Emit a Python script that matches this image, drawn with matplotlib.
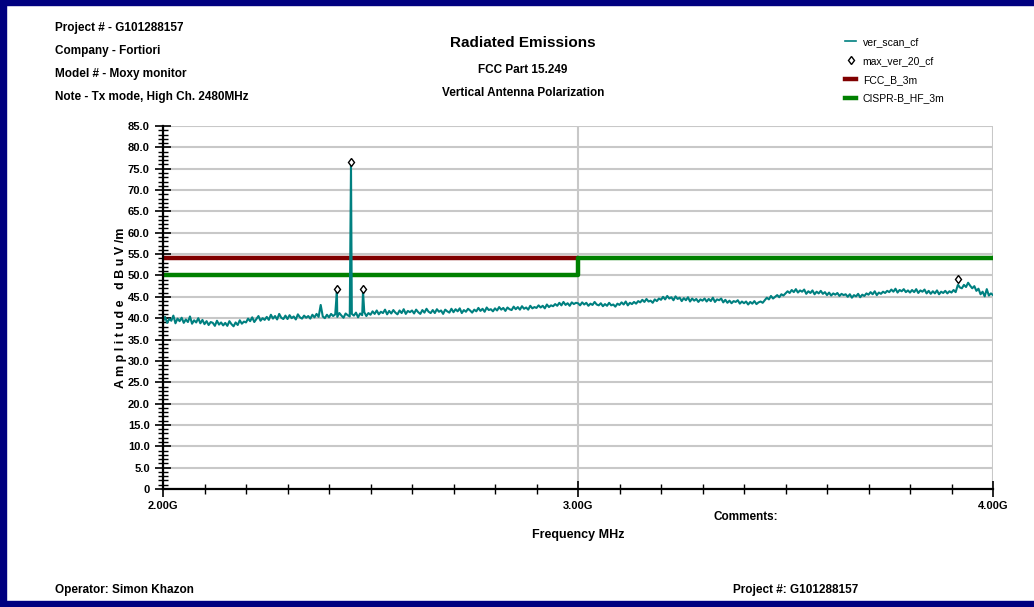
import matplotlib
matplotlib.use("Agg")
import matplotlib.pyplot as plt
from matplotlib.lines import Line2D
from matplotlib.patches import Rectangle
from matplotlib.ticker import MultipleLocator, FixedLocator
import numpy as np

plt.rcParams['font.family'] = ['Liberation Sans', 'DejaVu Sans']

# scan trace, 5 MHz steps from 2.00 GHz to 4.00 GHz (dBuV/m), one row per 50 MHz
scan_start = 2.00
scan_step = 0.005
scan_level = [
    39.2, 40.3, 38.9, 39.8, 39.4, 40.6, 38.8, 39.9, 39.3, 40.1,
    38.9, 39.7, 39.1, 40.4, 38.7, 39.5, 39.0, 40.0, 38.8, 39.6,
    38.6, 39.3, 38.4, 39.1, 38.9, 38.2, 39.4, 38.5, 39.0, 38.3,
    38.9, 38.2, 39.3, 38.6, 38.1, 39.0, 38.4, 39.5, 38.7, 39.2,
    39.0, 39.9, 39.3, 40.2, 39.1, 39.8, 40.5, 39.4, 40.0, 39.6,
    40.3, 39.6, 40.8, 39.9, 40.5, 39.7, 41.0, 40.1, 39.8, 40.6,
    39.8, 40.7, 40.0, 40.4, 39.7, 40.9, 40.2, 39.9, 40.6, 40.1,
    40.5, 39.9, 40.8, 40.2, 41.0, 40.3, 43.1, 40.4, 40.0, 40.8,
    40.2, 41.0, 40.5, 40.9, 40.3, 41.2, 40.6, 40.1, 41.1, 40.7,
    40.4, 41.0, 40.6, 41.3, 40.2, 41.1, 40.7, 41.4, 40.5, 41.2,
    40.8, 41.6, 41.0, 41.8, 40.9, 41.5, 41.2, 42.0, 40.9, 41.7,
    41.1, 41.9, 41.3, 40.9, 41.8, 41.2, 42.1, 41.0, 41.7, 41.4,
    41.8, 41.1, 42.0, 41.4, 41.0, 41.9, 41.3, 42.2, 41.5, 41.2,
    41.9, 41.2, 42.1, 41.5, 41.8, 41.0, 42.0, 41.6, 41.3, 42.2,
    41.4, 42.1, 41.6, 42.3, 41.2, 41.9, 41.5, 42.2, 41.8, 41.3,
    42.0, 41.6, 42.4, 41.7, 42.2, 41.5, 42.5, 41.9, 42.1, 41.6,
    42.3, 41.8, 42.6, 42.0, 42.4, 41.7, 42.5, 42.1, 41.9, 42.7,
    42.1, 42.6, 42.0, 42.8, 42.2, 42.5, 42.0, 42.9, 42.3, 42.6,
    42.4, 43.0, 42.5, 42.9, 42.3, 43.2, 42.6, 43.0, 42.8, 43.3,
    42.9, 43.6, 43.0, 43.8, 43.1, 43.5, 42.9, 43.7, 43.3, 43.6,
    43.5, 43.0, 43.7, 43.2, 43.6, 42.9, 43.4, 43.1, 43.8, 43.2,
    43.0, 43.5, 42.8, 43.3, 42.9, 43.6, 43.0, 43.2, 42.7, 43.4,
    43.1, 43.7, 43.2, 43.9, 43.0, 43.6, 43.3, 43.8, 43.4, 44.0,
    43.7, 44.3, 43.8, 44.5, 43.9, 44.1, 43.6, 44.4, 44.0, 44.6,
    44.3, 45.0, 44.4, 45.2, 44.6, 44.9, 44.2, 45.1, 44.5, 44.8,
    44.0, 44.7, 44.2, 44.9, 43.9, 44.6, 44.1, 44.5, 43.8, 44.4,
    44.1, 44.6, 43.9, 44.5, 44.0, 44.8, 43.8, 44.4, 44.2, 44.6,
    43.7, 44.3, 43.6, 44.1, 43.5, 44.0, 43.8, 44.2, 43.4, 43.9,
    43.5, 43.9, 43.2, 43.8, 43.4, 44.0, 43.3, 43.7, 43.9, 43.6,
    44.2, 44.8, 44.4, 45.2, 44.6, 45.0, 45.4, 44.9, 45.6, 45.3,
    45.8, 46.3, 45.9, 46.6, 46.1, 46.8, 46.0, 46.5, 46.2, 46.7,
    45.7, 46.3, 45.9, 46.5, 45.6, 46.2, 45.8, 46.4, 45.7, 46.1,
    45.4, 46.0, 45.3, 45.8, 45.5, 45.9, 45.2, 45.7, 45.4, 45.6,
    45.0, 45.6, 44.8, 45.4, 45.1, 45.7, 44.9, 45.5, 45.2, 45.8,
    45.5, 46.1, 45.6, 46.3, 45.4, 46.0, 45.7, 46.2, 45.9, 46.4,
    46.1, 46.7, 46.2, 46.9, 46.0, 46.6, 46.3, 46.8, 46.1, 46.5,
    46.0, 46.6, 46.1, 46.8, 45.9, 46.5, 46.2, 46.7, 45.8, 46.4,
    45.7, 46.3, 45.8, 46.5, 45.6, 46.2, 45.9, 46.4, 45.8, 46.3,
    46.0, 46.6, 46.1, 47.7, 47.2, 47.0, 47.8, 47.3, 48.3, 47.6,
    47.0, 47.5, 46.4, 46.9, 45.6, 46.2, 45.1, 46.8, 45.3, 45.8,
    45.4,
]

# narrow spikes in the scan and the max-hold markers above them
peak_freq = [2.419, 2.453, 2.482, 3.916]
peak_scan = [46.3, 76.1, 46.3, 47.8]
peak_marker = [46.8, 76.6, 46.8, 49.2]

# limit lines
fcc_freq = [2.0, 3.0]
fcc_level = [54.0, 54.0]
cispr_freq = [2.0, 3.0, 3.0, 4.0]
cispr_level = [50.0, 50.0, 54.0, 54.0]

header_lines = [
    "Project # - G101288157",
    "Company - Fortiori",
    "Model # - Moxy monitor",
    "Note - Tx mode, High Ch. 2480MHz",
]

teal = "#008080"
red = "#800000"
green = "#008000"
navy = "#000080"

scan_freq = scan_start + scan_step * np.arange(len(scan_level))
freq = np.concatenate([scan_freq, peak_freq])
level = np.concatenate([scan_level, peak_scan])
order = np.argsort(freq, kind="stable")
freq, level = freq[order], level[order]

fig = plt.figure(figsize=(10.34, 6.07), dpi=100)
ax = fig.add_axes([163 / 1034, 1 - 489 / 607, 830 / 1034, 363 / 607])

ax.plot(freq, level, color=teal, lw=1.5, zorder=3)
ax.plot(peak_freq, peak_marker, linestyle="none", marker="d", ms=4.5,
        mfc="white", mec="black", mew=1.0, zorder=4)
ax.plot(fcc_freq, fcc_level, color=red, lw=3.2, solid_capstyle="butt", zorder=2)
ax.plot(cispr_freq, cispr_level, color=green, lw=3.2, solid_capstyle="butt", zorder=2)

ax.set_xlim(2.0, 4.0)
ax.set_ylim(0, 85)

ax.set_yticks(np.arange(0, 86, 5))
ax.set_yticklabels(["0"] + ["%.1f" % v for v in np.arange(5, 86, 5)])
ax.yaxis.set_minor_locator(MultipleLocator(1))

ax.xaxis.set_major_locator(FixedLocator([2.0, 3.0, 4.0]))
ax.xaxis.set_minor_locator(MultipleLocator(0.1))
ax.set_xticklabels(["2.00G", "3.00G", "4.00G"])

ax.tick_params(axis="both", which="major", direction="inout", length=11,
               width=1.2, labelsize=8, pad=4)
ax.tick_params(axis="both", which="minor", direction="inout", length=7, width=1.0)
ax.tick_params(axis="x", which="major", pad=3)
for lab in ax.get_xticklabels() + ax.get_yticklabels():
    lab.set_fontweight("bold")

ax.grid(True, which="major", color="#c8c8c8", lw=1.5, zorder=0)
ax.set_axisbelow(True)
for side in ("top", "right"):
    ax.spines[side].set_visible(False)
for side in ("left", "bottom"):
    ax.spines[side].set_linewidth(1.6)
    ax.spines[side].set_zorder(5)

ax.set_ylabel("A m p l i t u d e   d B u V /m", fontsize=9, fontweight="bold", labelpad=1)
ax.set_xlabel("Frequency MHz", fontsize=9, fontweight="bold", labelpad=13)

# header block
for i, line in enumerate(header_lines):
    fig.text(55 / 1034, 1 - (28 + 23 * i) / 607, line, fontsize=8.5,
             fontweight="bold", va="center", ha="left")

fig.text(523 / 1034, 1 - 43 / 607, "Radiated Emissions", fontsize=11,
         fontweight="bold", ha="center", va="center")
fig.text(523 / 1034, 1 - 70 / 607, "FCC Part 15.249", fontsize=8.5,
         fontweight="bold", ha="center", va="center")
fig.text(523 / 1034, 1 - 93 / 607, "Vertical Antenna Polarization", fontsize=8.5,
         fontweight="bold", ha="center", va="center")

fig.text(746 / 1034, 1 - 517 / 607, "Comments:", fontsize=8.5,
         fontweight="bold", ha="center", va="center")
fig.text(55 / 1034, 1 - 590 / 607, "Operator: Simon Khazon", fontsize=8.5,
         fontweight="bold", ha="left", va="center")
fig.text(733 / 1034, 1 - 590 / 607, "Project #: G101288157", fontsize=8.5,
         fontweight="bold", ha="left", va="center")

handles = [
    Line2D([], [], color=teal, lw=1.2),
    Line2D([], [], linestyle="none", marker="d", ms=4.5, mfc="white", mec="black"),
    Line2D([], [], color=red, lw=3.2),
    Line2D([], [], color=green, lw=3.2),
]
labels = ["ver_scan_cf", "max_ver_20_cf", "FCC_B_3m", "CISPR-B_HF_3m"]
fig.legend(handles, labels, loc="upper left", bbox_to_anchor=(845 / 1034, 1 - 37 / 607),
           frameon=False, fontsize=7.5, handlelength=1.1, handletextpad=0.6,
           labelspacing=0.85, borderaxespad=0, borderpad=0)

# page frame
fig.patches.append(Rectangle((0, 1 - 5 / 607), 1, 5 / 607, transform=fig.transFigure,
                             color=navy, zorder=10))
fig.patches.append(Rectangle((0, 0), 6 / 1034, 1, transform=fig.transFigure,
                             color=navy, zorder=10))
fig.patches.append(Rectangle((0, 0), 1, 6 / 607, transform=fig.transFigure,
                             color=navy, zorder=10))

fig.savefig("out.png", dpi=100)
